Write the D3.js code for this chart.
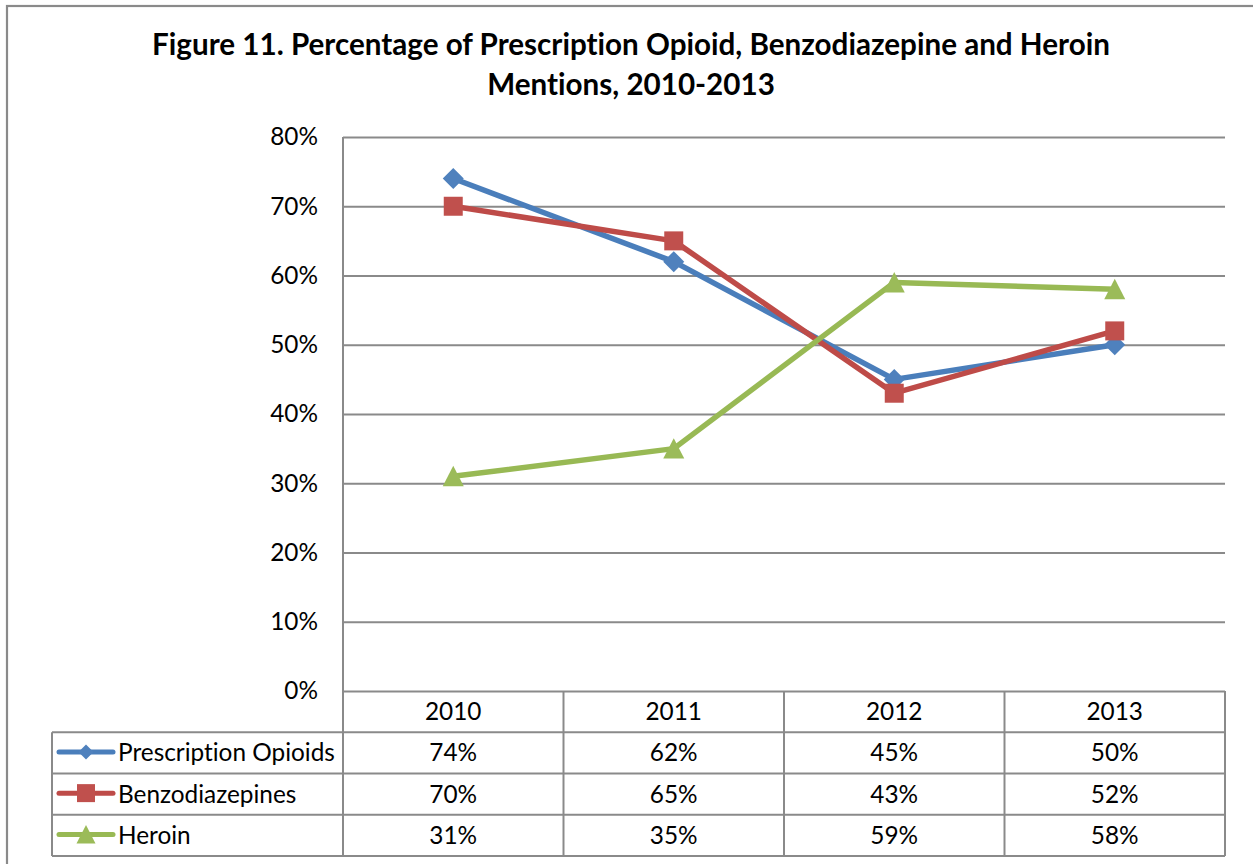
<!DOCTYPE html>
<html>
<head>
<meta charset="utf-8">
<script src="https://cdn.jsdelivr.net/npm/d3@7"></script>
<style>
  body { margin: 0; background: #fff; }
  svg { display: block; }
  text { font-variant-ligatures: none; font-feature-settings: "liga" 0, "clig" 0; }
</style>
</head>
<body>
<svg id="chart" width="1253" height="864"></svg>
<script>
// ---- data ----
const years = ["2010", "2011", "2012", "2013"];
const seriesNames = ["Prescription Opioids", "Benzodiazepines", "Heroin"];
const opioidValues = [74, 62, 45, 50];
const benzoValues = [70, 65, 43, 52];
const heroinValues = [31, 35, 59, 58];
const yTickValues = [0, 10, 20, 30, 40, 50, 60, 70, 80];
const titleLines = [
  "Figure 11. Percentage of Prescription Opioid, Benzodiazepine and Heroin",
  "Mentions, 2010-2013"
];

// ---- series styling ----
const seriesValues = [opioidValues, benzoValues, heroinValues];
const lineColors = ["#4A7EBB", "#BE4B48", "#98B954"];
const markerColors = ["#4F81BD", "#C0504D", "#9BBB59"];

// custom marker shapes (bounding-box centred, size = width in px)
const diamondShape = { draw(ctx, s) { const h = s / 2; ctx.moveTo(0, -h); ctx.lineTo(h, 0); ctx.lineTo(0, h); ctx.lineTo(-h, 0); ctx.closePath(); } };
const squareShape = { draw(ctx, s) { const h = s / 2; ctx.rect(-h, -h, s, s); } };
const triangleShape = { draw(ctx, s) { const h = s / 2; ctx.moveTo(0, -h * 1.0); ctx.lineTo(h, h * 0.95); ctx.lineTo(-h, h * 0.95); ctx.closePath(); } };
const markerShapes = [diamondShape, squareShape, triangleShape];
const markerSizes = [21, 19, 21];
const legendMarkerSizes = [15, 18, 19];

const FONT = "Lato, 'Open Sans', 'Liberation Sans', sans-serif";
const GRID = "#8a8a8a";

const svg = d3.select("#chart");

// measure helper: pick a font size so a string spans a given width
function fitSize(text, width, weight) {
  const t = svg.append("text").attr("font-family", FONT).attr("font-weight", weight)
    .attr("font-size", 100).text(text);
  const w = t.node().getComputedTextLength();
  t.remove();
  return 100 * width / w;
}
const titleSize = fitSize(titleLines[0], 958, "bold");
const tableSize = fitSize("Prescription Opioids", 217, "normal");
const tickSize = tableSize;

// ---- layout ----
const plot = { left: 343, right: 1225, top: 137, bottom: 691 };
const tableLeft = 52, tableBottom = 856;

const x = d3.scaleBand().domain(years).range([plot.left, plot.right]);
const y = d3.scaleLinear().domain([0, 80]).range([plot.bottom, plot.top]);
const rows = d3.scaleBand().domain(["header", ...seriesNames]).range([plot.bottom, tableBottom]);

// outer frame
svg.append("rect").attr("x", 7).attr("y", 6).attr("width", 1270).attr("height", 880)
  .attr("fill", "none").attr("stroke", GRID).attr("stroke-width", 2.2);

// title
svg.append("g").selectAll("text").data(titleLines).join("text")
  .attr("x", 631).attr("y", (d, i) => 55 + i * 40)
  .attr("text-anchor", "middle").attr("font-family", FONT).attr("font-weight", "bold")
  .attr("font-size", titleSize).attr("fill", "#000").text(d => d);

// horizontal gridlines + y labels
const yAxis = svg.append("g").attr("transform", `translate(${plot.left},0)`)
  .call(d3.axisLeft(y).tickValues(yTickValues).tickSize(-(plot.right - plot.left))
    .tickPadding(25).tickFormat(d => d + "%"));
yAxis.select(".domain").remove();
yAxis.selectAll(".tick line").attr("stroke", GRID).attr("stroke-width", 2);
yAxis.selectAll(".tick text").attr("font-family", FONT).attr("font-size", tickSize).attr("fill", "#000");

// vertical axis line
svg.append("line").attr("x1", plot.left).attr("x2", plot.left).attr("y1", plot.top).attr("y2", plot.bottom)
  .attr("stroke", GRID).attr("stroke-width", 2);

// ---- data table ----
const tbl = svg.append("g").attr("stroke", GRID).attr("stroke-width", 2);
// row separators
seriesNames.forEach(n => {
  tbl.append("line").attr("x1", tableLeft).attr("x2", plot.right)
    .attr("y1", rows(n)).attr("y2", rows(n));
});
tbl.append("line").attr("x1", tableLeft).attr("x2", plot.right).attr("y1", tableBottom).attr("y2", tableBottom);
// column separators
[...years.map(yr => x(yr)), plot.right].forEach(cx => {
  tbl.append("line").attr("x1", cx).attr("x2", cx).attr("y1", plot.bottom).attr("y2", tableBottom);
});
tbl.append("line").attr("x1", tableLeft).attr("x2", tableLeft).attr("y1", rows(seriesNames[0])).attr("y2", tableBottom);

const cellText = svg.append("g").attr("font-family", FONT).attr("font-size", tableSize).attr("fill", "#000");
// year headers
cellText.selectAll("text.year").data(years).join("text").attr("class", "year")
  .attr("x", d => x(d) + x.bandwidth() / 2).attr("y", rows("header") + rows.bandwidth() / 2)
  .attr("dy", "0.35em").attr("text-anchor", "middle").text(d => d);
// values
seriesNames.forEach((name, si) => {
  cellText.append("g").selectAll("text").data(seriesValues[si]).join("text")
    .attr("x", (d, i) => x(years[i]) + x.bandwidth() / 2)
    .attr("y", rows(name) + rows.bandwidth() / 2)
    .attr("dy", "0.35em").attr("text-anchor", "middle").text(d => d + "%");
});

// legend keys + series names
seriesNames.forEach((name, si) => {
  const cy = rows(name) + rows.bandwidth() / 2;
  const g = svg.append("g");
  g.append("line").attr("x1", 59).attr("x2", 113).attr("y1", cy - 1).attr("y2", cy - 1)
    .attr("stroke", lineColors[si]).attr("stroke-width", 5).attr("stroke-linecap", "round");
  g.append("path").attr("transform", `translate(86,${cy - 1})`)
    .attr("d", d3.symbol().type(markerShapes[si]).size(legendMarkerSizes[si])())
    .attr("fill", markerColors[si]);
  g.append("text").attr("x", 118).attr("y", cy).attr("dy", "0.35em")
    .attr("font-family", FONT).attr("font-size", tableSize).attr("fill", "#000").text(name);
});

// ---- series lines and markers ----
const line = d3.line().x((d, i) => x(years[i]) + x.bandwidth() / 2).y(d => y(d));
seriesNames.forEach((name, si) => {
  const g = svg.append("g");
  g.append("path").datum(seriesValues[si]).attr("d", line)
    .attr("fill", "none").attr("stroke", lineColors[si]).attr("stroke-width", 5.5)
    .attr("stroke-linejoin", "round").attr("stroke-linecap", "round");
  g.selectAll("path.marker").data(seriesValues[si]).join("path").attr("class", "marker")
    .attr("transform", (d, i) => `translate(${x(years[i]) + x.bandwidth() / 2},${y(d)})`)
    .attr("d", d3.symbol().type(markerShapes[si]).size(markerSizes[si])())
    .attr("fill", markerColors[si]);
});
</script>
</body>
</html>
